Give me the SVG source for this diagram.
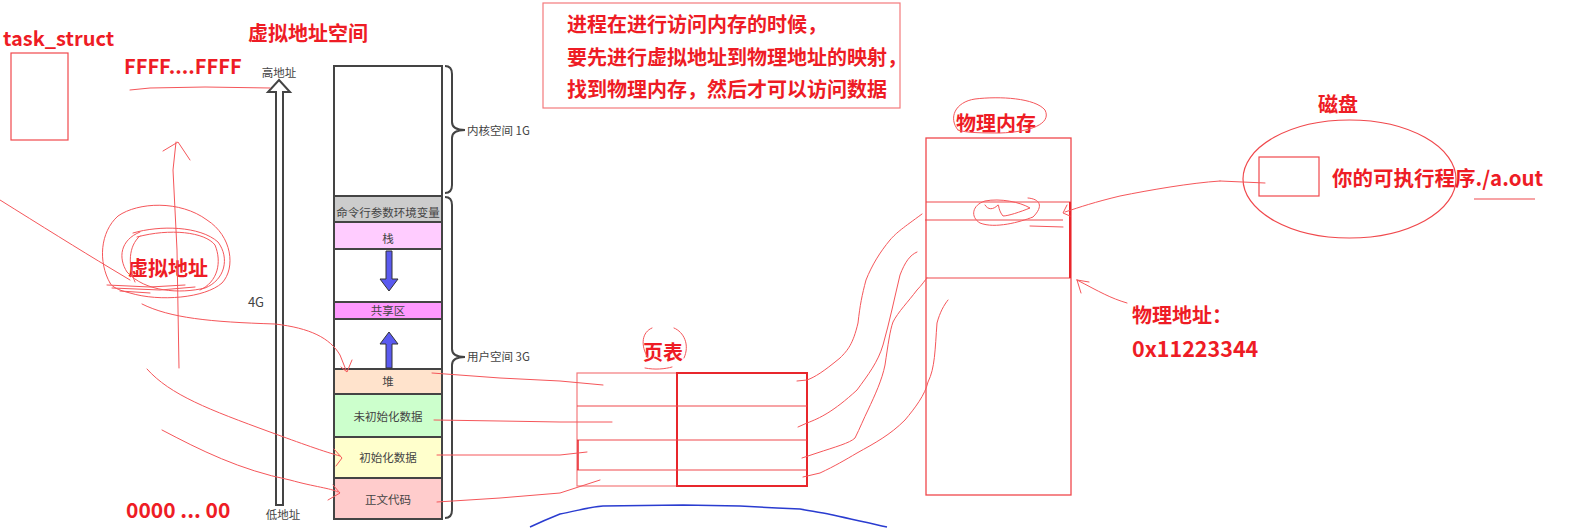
<svg xmlns="http://www.w3.org/2000/svg" width="1580" height="528" viewBox="0 0 1580 528">
<style>
.big{font-family:"Noto Sans CJK SC","Liberation Sans",sans-serif;font-weight:bold;fill:#ee1c25;font-size:20px}
.sm{font-family:"Noto Sans CJK SC","Liberation Sans",sans-serif;fill:#444;font-size:11.5px}
.row{stroke:#444;stroke-width:2}
.red{fill:none;stroke:#f0484c;stroke-width:1.2}
.scr{fill:none;stroke:#f5565a;stroke-width:1;stroke-linecap:round;stroke-linejoin:round}
.brace{fill:none;stroke:#444;stroke-width:2}
.blue{fill:#5a5af0;stroke:#333;stroke-width:1}
</style>
<rect width="1580" height="528" fill="#fff"/>

<g id="task_struct">
<text class="big" x="3" y="46">task_struct</text>
<rect class="red" x="11" y="53" width="57" height="87"/>
</g>

<g id="vas-title"><text class="big" x="248" y="41">虚拟地址空间</text></g>
<g id="ffff"><text class="big" x="124" y="74">FFFF....FFFF</text></g>
<g id="zero"><text class="big" x="126" y="518" style="font-size:21px">0000 ... 00</text></g>

<g id="addr-arrow">
<polygon points="279,80 290,92 283,92 283,505 276,505 276,92 268,92" fill="#fff" stroke="#444" stroke-width="2" stroke-linejoin="miter"/>
<text class="sm" x="279" y="77" text-anchor="middle">高地址</text>
<text class="sm" x="283" y="519" text-anchor="middle">低地址</text>
<text class="sm" x="256" y="307" text-anchor="middle" style="font-size:13px">4G</text>
</g>

<g id="memory">
<rect class="row" x="334" y="66" width="108" height="130" fill="#fff"/>
<g id="row-cmd"><rect class="row" x="334" y="196" width="108" height="26" fill="#cccccc"/><text class="sm" x="388" y="217" text-anchor="middle">命令行参数环境变量</text></g>
<g id="row-stack"><rect class="row" x="334" y="222" width="108" height="27" fill="#ffccff"/><text class="sm" x="388" y="243" text-anchor="middle">栈</text></g>
<rect class="row" x="334" y="249" width="108" height="53" fill="#fff"/>
<g id="row-shared"><rect class="row" x="334" y="302" width="108" height="17" fill="#ff99ff"/><text class="sm" x="388" y="315" text-anchor="middle">共享区</text></g>
<rect class="row" x="334" y="319" width="108" height="50" fill="#fff"/>
<g id="row-heap"><rect class="row" x="334" y="369" width="108" height="25" fill="#ffe3cc"/><text class="sm" x="388" y="386" text-anchor="middle">堆</text></g>
<g id="row-bss"><rect class="row" x="334" y="394" width="108" height="43" fill="#ccffcc"/><text class="sm" x="388" y="421" text-anchor="middle">未初始化数据</text></g>
<g id="row-data"><rect class="row" x="334" y="437" width="108" height="41" fill="#ffffcc"/><text class="sm" x="388" y="462" text-anchor="middle">初始化数据</text></g>
<g id="row-text"><rect class="row" x="334" y="478" width="108" height="41" fill="#ffcccc"/><text class="sm" x="388" y="504" text-anchor="middle">正文代码</text></g>
<polygon class="blue" points="386,251 392,251 392,279 398,279 389,291 380,279 386,279"/>
<polygon class="blue" points="386,368 392,368 392,344 398,344 389,332 380,344 386,344"/>
<path class="brace" d="M445,66 Q452,66 452,74 L452,122 Q452,130 465,130 Q452,130 452,138 L452,185 Q452,193 445,193"/>
<path class="brace" d="M445,197 Q452,197 452,205 L452,349 Q452,357 465,357 Q452,357 452,365 L452,510 Q452,518 445,518"/>
<text class="sm" x="467" y="135">内核空间 1G</text>
<text class="sm" x="467" y="361">用户空间 3G</text>
</g>

<g id="note">
<rect x="543" y="3" width="357" height="105" fill="none" stroke="#f47a7c" stroke-width="1.2"/>
<text class="big" x="567" y="32">进程在进行访问内存的时候，</text>
<text class="big" x="567" y="65">要先进行虚拟地址到物理地址的映射，</text>
<text class="big" x="567" y="97">找到物理内存，然后才可以访问数据</text>
</g>

<g id="vaddr">
<text class="big" x="128" y="276">虚拟地址</text>
<path class="scr" d="M110,283 C98,262 100,232 118,216 C138,202 180,200 207,220 C232,236 236,268 222,283 C205,298 160,302 130,293 C118,290 112,287 110,283"/>
<path class="scr" d="M133,233 C160,225 200,226 218,242 C230,258 225,280 205,288 C180,294 145,292 127,272 C118,258 120,240 140,232"/>
<path class="scr" d="M137,237 C170,228 205,232 215,245 C222,262 218,282 200,290 M135,282 C128,266 128,246 140,236"/>
<path class="scr" d="M107,285 L150,287 L185,285 M112,288 L160,290 L195,287 M120,291 L150,293"/>
</g>

<g id="page-table">
<text class="big" x="643" y="360">页表</text>
<path class="scr" d="M648,358 C640,345 642,332 652,328 M674,328 C684,332 690,345 684,358 M645,368 C655,370 665,369 672,367"/>
<rect x="577" y="373" width="100" height="113" fill="none" stroke="#f47a7c" stroke-width="1.2"/>
<rect x="677" y="373" width="130" height="113" fill="none" stroke="#e8262c" stroke-width="2"/>
<line class="red" x1="577" y1="406" x2="807" y2="406"/>
<line class="red" x1="577" y1="440" x2="807" y2="440"/>
<line class="red" x1="577" y1="470" x2="807" y2="470"/>
<line x1="578" y1="440" x2="578" y2="470" stroke="#e8262c" stroke-width="1.5"/>
</g>

<g id="phys-mem">
<text class="big" x="956" y="131">物理内存</text>
<path class="scr" d="M958,130 C948,118 955,102 975,99 C1000,96 1035,98 1045,110 C1052,124 1030,132 1000,133 C985,133 965,133 958,130"/>
<rect x="926" y="138" width="145" height="357" fill="none" stroke="#f0484c" stroke-width="1.3"/>
<line class="red" x1="926" y1="202" x2="1071" y2="202"/>
<line class="red" x1="925" y1="220" x2="1063" y2="220"/>
<line class="red" x1="926" y1="278" x2="1071" y2="278"/>
<line x1="1070" y1="202" x2="1070" y2="278" stroke="#e8262c" stroke-width="2"/>
<path class="scr" d="M1028,198 C1040,199 1044,206 1033,217 C1020,222 995,229 980,223 C970,217 972,205 985,201 C1000,198 1020,202 1030,208 C1020,212 1008,216 1003,216 C998,210 999,204 998,205 C993,210 988,210 985,205 M1030,226 L1063,227"/>
</g>

<g id="disk">
<text class="big" x="1318" y="112">磁盘</text>
<ellipse cx="1349.5" cy="179" rx="106.5" ry="59" fill="none" stroke="#f0484c" stroke-width="1.2"/>
<rect x="1259" y="157" width="60" height="39" fill="none" stroke="#f0484c" stroke-width="1.2"/>
<text class="big" x="1332" y="186" style="font-size:20.5px">你的可执行程序./a.out</text>
<line class="red" x1="1474" y1="199" x2="1535" y2="199"/>
</g>

<g id="paddr">
<text class="big" x="1132" y="323">物理地址：</text>
<text class="big" x="1132" y="357" style="font-size:21.5px">0x11223344</text>
</g>

<g id="connectors">
<path class="scr" d="M130,90 L150,88 L205,87 L270,88"/>
<path class="scr" d="M179,368 L177,250 L173,170 L176,142 M163,151 L178,142 L190,160"/>
<path class="scr" d="M0,200 C40,225 80,250 110,268 L130,280"/>
<path class="scr" d="M142,304 C170,318 210,322 275,324 C310,328 330,338 340,355 L346,370 M341,367 L347,372 L352,360"/>
<path class="scr" d="M147,369 C170,395 210,410 270,432 C300,443 325,452 340,456 M334,449 L342,458 L336,466"/>
<path class="scr" d="M162,430 C200,450 240,470 290,480 C315,487 330,488 338,492 M333,485 L340,493 L328,500"/>
<path class="scr" d="M432,373 L500,378 L560,381 L603,385"/>
<path class="scr" d="M434,420 L500,421 L560,422 L612,422"/>
<path class="scr" d="M437,455 L500,455 L560,455 L587,452"/>
<path class="scr" d="M437,502 L500,498 L560,493 L600,480"/>
<path class="scr" d="M797,381 L807,380 C815,377 823,372 840,358 C848,350 853,344 858,323 C860,305 862,295 866,280 C872,265 880,252 890,240 C897,232 903,228 922,214"/>
<path class="scr" d="M798,427 L807,423 C820,418 833,412 857,390 C868,375 878,362 883,345 C890,320 894,300 900,275 C905,262 910,255 917,252"/>
<path class="scr" d="M802,458 L817,453 C835,447 850,443 855,438 C860,428 864,418 868,410 C875,395 882,380 885,365 C888,345 890,330 893,322 C898,312 908,302 917,290 C922,285 925,280 927,278"/>
<path class="scr" d="M803,477 L820,473 C835,466 845,460 857,453 C875,443 890,435 905,420 C915,408 925,395 928,382 C935,368 935,350 937,323 C940,312 944,305 948,300"/>
<path class="scr" d="M1220,181 L1265,183 M1220,181 C1190,183 1150,190 1120,196 C1095,202 1080,207 1065,212 M1067,205 L1063,213 L1070,216"/>
<path class="scr" d="M1127,303 C1110,298 1100,292 1077,280 M1077,280 L1081,293 M1077,280 L1089,282"/>
<path d="M530,527 C545,520 555,516 560,514 C580,510 590,507 603,506 L683,505 L740,506 L777,508 L800,509 C815,512 825,513 833,515 C855,520 870,523 887,527" fill="none" stroke="#2a3cd0" stroke-width="1.5"/>
</g>
</svg>
